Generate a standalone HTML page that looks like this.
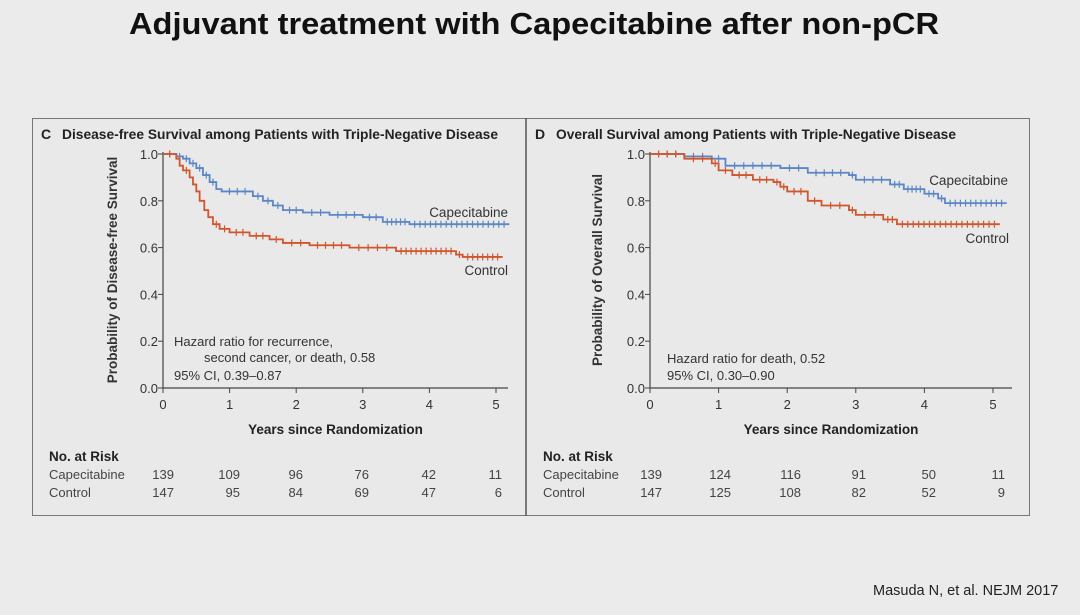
<!DOCTYPE html>
<html><head><meta charset="utf-8">
<style>
html,body{margin:0;padding:0;background:#ebebeb;}
svg{display:block;font-family:"Liberation Sans",sans-serif;}
</style></head>
<body>
<svg id="s" width="1080" height="615" viewBox="0 0 1080 615" xmlns="http://www.w3.org/2000/svg">
<rect width="1080" height="615" fill="#ebebeb"/>
<text x="534" y="34" text-anchor="middle" font-size="31" font-weight="bold" fill="#111" textLength="810" lengthAdjust="spacingAndGlyphs">Adjuvant treatment with Capecitabine after non-pCR</text>
<rect x="32.5" y="118.5" width="997" height="397" fill="#e9e9e9" stroke="#777" stroke-width="1"/>
<line x1="526" y1="118" x2="526" y2="516" stroke="#555" stroke-width="1.5"/>
<text x="873" y="595" font-size="14.5" fill="#222">Masuda N, et al. NEJM 2017</text>
<g id="g"></g>
</svg>
<script>
const NS="http://www.w3.org/2000/svg",g=document.getElementById('g');
function el(t,a,txt){const e=document.createElementNS(NS,t);for(const k in a)e.setAttribute(k,a[k]);if(txt!==undefined)e.textContent=txt;g.appendChild(e);return e;}
function panel(o){
 const X=v=>o.x0+v*o.xs, Y=v=>388-(v)*234;
 el('text',{x:o.bx+9,y:139,'font-size':14,'font-weight':'bold',fill:'#222'},o.letter);
 el('text',{x:o.bx+30,y:139,'font-size':13.5,'font-weight':'bold',fill:'#222',textLength:o.tl,lengthAdjust:'spacingAndGlyphs'},o.title);
 el('line',{x1:o.x0,y1:152,x2:o.x0,y2:388,stroke:'#444','stroke-width':1.2});
 el('line',{x1:o.x0,y1:388,x2:o.xend,y2:388,stroke:'#444','stroke-width':1.2});
 for(let i=0;i<=5;i++){const yy=Y(i*0.2);el('line',{x1:o.x0-5,y1:yy,x2:o.x0,y2:yy,stroke:'#444'});
  el('text',{x:o.x0-5,y:yy+5,'text-anchor':'end','font-size':13,fill:'#333'},(i*0.2).toFixed(1));}
 for(let i=0;i<=5;i++){const xx=X(i);el('line',{x1:xx,y1:388,x2:xx,y2:393,stroke:'#444'});
  el('text',{x:xx,y:409,'text-anchor':'middle','font-size':13,fill:'#333'},i);}
 el('text',{transform:`translate(${o.ylx},${270}) rotate(-90)`,'text-anchor':'middle','font-size':13.5,'font-weight':'bold',fill:'#333'},o.ylab);
 el('text',{x:(o.x0+o.xend)/2,y:434,'text-anchor':'middle','font-size':13.5,'font-weight':'bold',fill:'#222'},'Years since Randomization');
 function curve(pts,end,col){let d=`M${X(0)},${Y(1)}`;
  for(const [t,v] of pts){d+=`H${X(t)}V${Y(v)}`;}
  d+=`H${X(end)}`;el('path',{d,fill:'none',stroke:col,'stroke-width':1.8});
  let seg=[[0,1]].concat(pts);
  for(let i=0;i<seg.length;i++){const a=seg[i][0],b=i+1<seg.length?seg[i+1][0]:end,v=seg[i][1];
   const n=Math.round((b-a)*(a>3?12:6));for(let k=1;k<=n;k++){const t=a+(b-a)*k/(n+1);
   el('line',{x1:X(t),y1:Y(v)-3.5,x2:X(t),y2:Y(v)+3.5,stroke:col,'stroke-width':1.2});}}}
 curve(o.cap,o.capEnd,'#5b87c5');curve(o.ctl,o.ctlEnd,'#d0562e');
 el('text',{x:o.capL[0],y:o.capL[1],'text-anchor':'end','font-size':13.5,fill:'#333'},'Capecitabine');
 el('text',{x:o.ctlL[0],y:o.ctlL[1],'text-anchor':'end','font-size':13.5,fill:'#333'},'Control');
 o.hr.forEach((h,i)=>el('text',{x:h[0],y:h[1],'font-size':13,fill:'#333'},h[2]));
 el('text',{x:o.bx+17,y:461,'font-size':13.5,'font-weight':'bold',fill:'#222'},'No. at Risk');
 el('text',{x:o.bx+17,y:479,'font-size':13,fill:'#444'},'Capecitabine');
 el('text',{x:o.bx+17,y:497,'font-size':13,fill:'#444'},'Control');
 o.r1.forEach((v,i)=>el('text',{x:o.rx[i],y:479,'text-anchor':'end','font-size':13,fill:'#444'},v));
 o.r2.forEach((v,i)=>el('text',{x:o.rx[i],y:497,'text-anchor':'end','font-size':13,fill:'#444'},v));
}
panel({bx:32,x0:163,xs:66.6,xend:508,ylx:117,letter:'C',title:'Disease-free Survival among Patients with Triple-Negative Disease',tl:436,
 ylab:'Probability of Disease-free Survival',
 cap:[[0.2,0.99],[0.3,0.98],[0.4,0.96],[0.5,0.94],[0.6,0.91],[0.7,0.88],[0.8,0.85],[0.88,0.84],[1.35,0.82],[1.5,0.80],[1.65,0.78],[1.8,0.76],[2.1,0.75],[2.5,0.74],[3.0,0.73],[3.3,0.71],[3.7,0.70]],capEnd:5.2,
 ctl:[[0.2,0.98],[0.25,0.95],[0.3,0.93],[0.4,0.90],[0.45,0.87],[0.5,0.84],[0.55,0.80],[0.62,0.76],[0.68,0.73],[0.75,0.70],[0.85,0.68],[1.0,0.665],[1.3,0.65],[1.6,0.635],[1.8,0.62],[2.2,0.61],[2.8,0.60],[3.5,0.585],[4.4,0.57],[4.5,0.56]],ctlEnd:5.1,
 capL:[508,217],ctlL:[508,275],
 hr:[[174,346,'Hazard ratio for recurrence,'],[204,362,'second cancer, or death, 0.58'],[174,380,'95% CI, 0.39\u20130.87']],
 r1:['139','109','96','76','42','11'],r2:['147','95','84','69','47','6'],rx:[174,240,303,369,436,502]});
panel({bx:526,x0:650,xs:68.6,xend:1012,ylx:602,letter:'D',title:'Overall Survival among Patients with Triple-Negative Disease',tl:400,
 ylab:'Probability of Overall Survival',
 cap:[[0.5,0.99],[0.9,0.98],[1.1,0.95],[1.9,0.94],[2.3,0.92],[2.9,0.91],[3.0,0.89],[3.5,0.87],[3.7,0.85],[4.0,0.83],[4.2,0.81],[4.3,0.79]],capEnd:5.2,
 ctl:[[0.5,0.98],[0.9,0.96],[1.0,0.93],[1.2,0.91],[1.5,0.89],[1.8,0.88],[1.9,0.86],[2.0,0.84],[2.3,0.80],[2.5,0.78],[2.9,0.76],[3.0,0.74],[3.4,0.72],[3.6,0.70]],ctlEnd:5.1,
 capL:[1008,185],ctlL:[1009,243],
 hr:[[667,363,'Hazard ratio for death, 0.52'],[667,380,'95% CI, 0.30\u20130.90']],
 r1:['139','124','116','91','50','11'],r2:['147','125','108','82','52','9'],rx:[662,731,801,866,936,1005]});
</script>
</body></html>
